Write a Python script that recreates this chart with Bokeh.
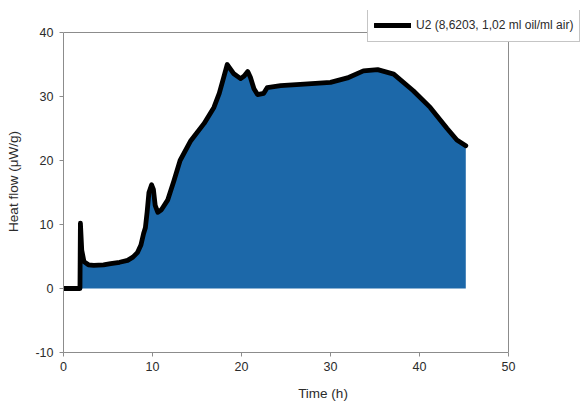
from bokeh.plotting import figure
from bokeh.models import Legend, LegendItem, Range1d, FixedTicker
from bokeh.embed import file_html
from bokeh.resources import INLINE

# Data
time_h = [0, 1.85, 1.9, 2.05, 2.3, 2.8, 3.4, 4.5, 5.3, 6.3, 7.2, 7.8, 8.3, 8.7, 9.0,
          9.2, 9.4, 9.6, 9.9, 10.1, 10.3, 10.6, 11.0, 11.7, 12.4, 13.1, 14.3, 15.8,
          16.9, 17.5, 18.0, 18.4, 18.8, 19.1, 19.9, 20.3, 20.7, 21.0, 21.4, 21.8,
          22.5, 22.9, 24.4, 26.6, 30.0, 31.9, 33.7, 35.3, 37.1, 39.3, 41.2, 43.1,
          44.2, 45.2]
heat_flow = [0, 0, 10.2, 6, 4.2, 3.7, 3.6, 3.7, 3.9, 4.1, 4.4, 4.9, 5.6, 6.8, 8.6,
             9.5, 12, 15, 16.2, 15.5, 13, 11.9, 12.3, 13.8, 16.8, 20, 23.1, 25.8,
             28.3, 30.5, 33, 35, 34.2, 33.6, 32.8, 33.2, 33.9, 33, 31.2, 30.3,
             30.5, 31.4, 31.7, 31.9, 32.2, 32.9, 34, 34.2, 33.5, 30.9, 28.3, 25,
             23.2, 22.3]
baseline = [0] * len(time_h)
x_ticks = [0, 10, 20, 30, 40, 50]
y_ticks = [-10, 0, 10, 20, 30, 40]
series_label = "U2 (8,6203, 1,02 ml oil/ml air)"

FONT = "Liberation Sans"
TXT = "#2b2b2b"
AX = "#8c8c8c"

# plot box: 445 x 320 px for 0..50 x -10..40; the frame is extended
# to the right and top so that the legend (which overlaps the box edge)
# is not clipped
PX_X = 445 / (x_ticks[-1] - x_ticks[0])
PX_Y = 320 / (y_ticks[-1] - y_ticks[0])
FW, FH = 519, 342

p = figure(frame_width=FW, frame_height=FH, output_backend="svg",
           toolbar_location=None,
           x_range=Range1d(x_ticks[0], x_ticks[0] + FW / PX_X),
           y_range=Range1d(y_ticks[0], y_ticks[0] + FH / PX_Y),
           min_border_left=63, min_border_right=0, min_border_top=10,
           min_border_bottom=50)
p.background_fill_color = "white"
p.border_fill_color = "white"
p.outline_line_color = None
p.xgrid.visible = False
p.ygrid.visible = False

# top and right edges of the plot box
p.line(x=[x_ticks[0], x_ticks[-1], x_ticks[-1]],
       y=[y_ticks[-1], y_ticks[-1], y_ticks[0]],
       line_color=AX, line_width=1)

p.varea(x=time_h, y1=baseline, y2=heat_flow, fill_color="#1C68A9")
line = p.line(time_h, heat_flow, line_color="black", line_width=4.8,
              line_join="round", line_cap="round")

for ax, ticks in ((p.xaxis[0], x_ticks), (p.yaxis[0], y_ticks)):
    ax.ticker = FixedTicker(ticks=ticks)
    ax.bounds = (ticks[0], ticks[-1])
    ax.major_label_overrides = {t: str(t) for t in ticks}
    ax.axis_line_color = AX
    ax.major_tick_line_color = AX
    ax.major_tick_out = 4
    ax.major_tick_in = 0
    ax.minor_tick_line_color = None
    ax.major_label_text_font = FONT
    ax.major_label_text_font_size = "12.5px"
    ax.major_label_text_color = TXT
    ax.axis_label_text_font = FONT
    ax.axis_label_text_font_size = "13.5px"
    ax.axis_label_text_font_style = "normal"
    ax.axis_label_text_color = TXT

p.xaxis.major_label_standoff = 5
p.yaxis.major_label_standoff = 6
p.xaxis.axis_label = "Time (h)"
p.yaxis.axis_label = "Heat flow (\u03bcW/g)"
p.xaxis.axis_label_standoff = 12
p.yaxis.axis_label_standoff = 11

legend = Legend(items=[LegendItem(label=series_label, renderers=[line])],
                location=(304, FH - 32), orientation="vertical",
                label_text_font=FONT, label_text_font_size="12px",
                label_text_color=TXT, glyph_width=37, glyph_height=20,
                label_height=20, label_standoff=5, padding=6, margin=0,
                spacing=0, border_line_color=AX, background_fill_color="white",
                background_fill_alpha=1.0)
p.add_layout(legend, "center")

open("out.html", "w").write(file_html(p, INLINE))
